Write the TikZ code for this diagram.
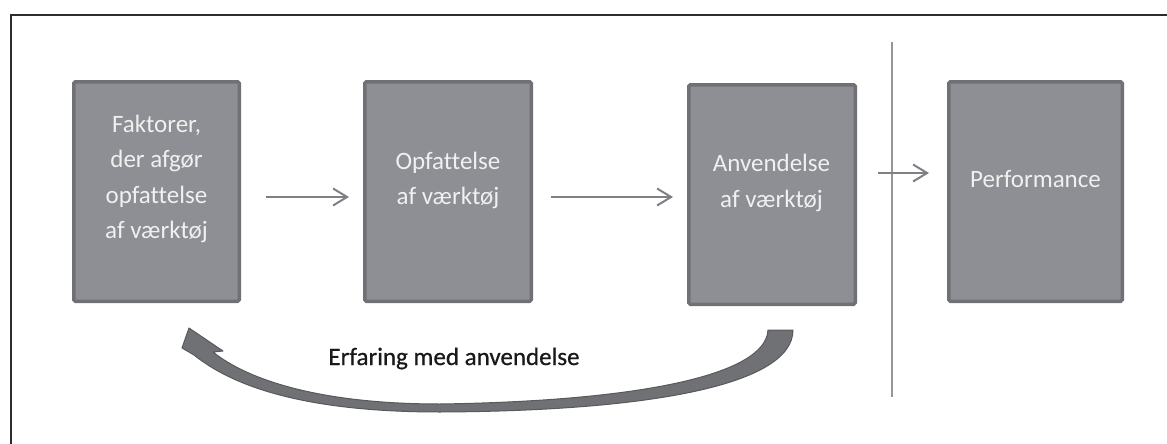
\documentclass[tikz,border=0pt]{standalone}
\usepackage{fontspec}
\setmainfont{Carlito}[Ligatures=NoCommon]
\newfontfamily\lblfont{Carlito}[Ligatures=NoCommon, FakeBold=0.7]
\usetikzlibrary{arrows.meta,calc}
\definecolor{boxfill}{RGB}{142,143,148}
\definecolor{boxedge}{RGB}{112,113,117}
\definecolor{boxtxt}{RGB}{240,240,240}
\definecolor{flowgray}{RGB}{128,128,132}
\definecolor{divgray}{RGB}{150,150,152}
\definecolor{loopfill}{RGB}{112,113,116}
\definecolor{loopedge}{RGB}{88,89,91}
\definecolor{framegray}{RGB}{45,45,45}
\tikzset{
  stepbox/.style={draw=boxedge, fill=boxfill, line width=3.5pt, rounded corners=1.5pt, minimum height=219.5pt, inner sep=0pt},
  boxtext/.style={text=boxtxt, font=\fontsize{25}{35.5}\selectfont, align=center, inner sep=0pt, anchor=base},
  flow/.style={draw=flowgray, line width=2pt, -{Straight Barb[length=14pt,width=17pt,line width=2pt]}},
}
\begin{document}
\begin{tikzpicture}[x=1pt,y=-1pt]
\useasboundingbox (0,0) rectangle (1167,444);
% frame (open at right and bottom)
\draw[framegray, line width=1.6pt] (11,444) -- (11,15) -- (1167,15);
% boxes
\node[stepbox, minimum width=165.5pt] (b1) at (156.5,191.5) {};
\node[stepbox, minimum width=166.5pt] (b2) at (448,191.5) {};
\node[stepbox, minimum width=166.5pt] (b3) at (772,194.5) {};
\node[stepbox, minimum width=173.5pt] (b4) at (1035.5,191.5) {};
% texts (anchor = baseline of last line)
\node[boxtext] (t1) at (156.5,238.5) {Faktorer,\\der afgør\\opfattelse\\af værktøj};
\node[boxtext] (t2) at (448,204.5) {Opfattelse\\af værktøj};
\node[boxtext] (t3) at (771.5,207) {Anvendelse\\af værktøj};
\node[boxtext] (t4) at (1035.5,187) {Performance};
% divider
\coordinate (dtop) at (892,42);
\coordinate (dbot) at (892,397);
\draw[divgray, line width=2pt] (dtop) -- (dbot);
% flow arrows
\draw[flow] ($(b1.east)+(25,5.5)$) -- ($(b2.west)+(-14,5.5)$);
\draw[flow] ($(b2.east)+(18,5.5)$) -- ($(b3.west)+(-14,2.5)$);
\draw[flow] ($(b3.east)+(21,-21.5)$) -- ($(b4.west)+(-18,-18.5)$);
% feedback loop arrow
\filldraw[fill=loopfill, draw=loopedge, line width=1pt, line join=round]
  (768,330) .. controls (766,375) and (640,401) .. (440,404)
  .. controls (320,404) and (248,380) .. (213,352)
  -- (223,351) -- (189,328) -- (182,348) -- (194,355)
  .. controls (240,392) and (320,412) .. (440,412)
  .. controls (650,411) and (793,385) .. (793,330) -- cycle;
\node[anchor=base, text=black!90, font=\lblfont\fontsize{25}{30}\selectfont, inner sep=0pt] (lbl) at (454,365) {Erfaring med anvendelse};
\end{tikzpicture}
\end{document}
